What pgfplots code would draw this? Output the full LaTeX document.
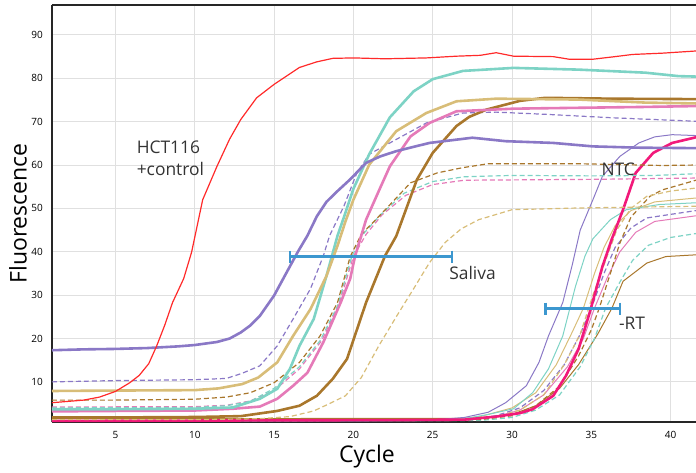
\documentclass[border=0pt]{standalone}
\usepackage{fontspec}
\setmainfont{Open Sans}
\usepackage{pgfplots}
\pgfplotsset{compat=1.18}

\definecolor{cred}{HTML}{FF2A2A}
\definecolor{cteal}{HTML}{7DD3C5}
\definecolor{cgold}{HTML}{D8BD78}
\definecolor{cbrown}{HTML}{A9772C}
\definecolor{cpink}{HTML}{E57AB8}
\definecolor{cpurple}{HTML}{8A78C6}
\definecolor{cmag}{HTML}{F2197A}
\definecolor{cbar}{HTML}{3C97CF}

\pgfplotsset{
  thin curve/.style={line width=0.5pt},
  thick curve/.style={line width=1.3pt},
  dash curve/.style={line width=0.6pt, dash pattern=on 2.5pt off 1.5pt},
}

\begin{document}
\begin{tikzpicture}
\begin{axis}[
  name=ax, at={(0,0)}, anchor=south west,
  scale only axis, width=322pt, height=208.5pt,
  xmin=1, xmax=41.6, ymin=0.75, ymax=96.9,
  axis x line=box, axis y line=left,
  axis line style={-, black!85, line width=0.8pt},
  xtick={5,10,...,40}, ytick={10,20,...,90},
  major tick length=0pt,
  grid=major, grid style={black!12, line width=0.5pt},
  tick label style={font=\fontsize{5}{6}\selectfont},
  /pgf/number format/assume math mode=true,
  xticklabel style={yshift=-1pt},
  yticklabel style={xshift=-1pt},
  xlabel={Cycle}, ylabel={Fluorescence},
  every axis x label/.style={at={(axis description cs:0.489,0)}, anchor=center, yshift=-17.5pt, font=\fontsize{11.5}{13}\selectfont},
  every axis y label/.style={at={(axis description cs:0,0.5)}, anchor=center, rotate=90, yshift=17pt, font=\fontsize{11.5}{13}\selectfont},
  clip=true,
]
% late group (NTC / -RT)
\addplot[cbrown, thin curve] coordinates {(1,1.5)(28,1.6)(30,2.5)(31.5,4.5)(33,8.5)(34.2,14)(35.4,21)(36.3,27)(37,33.2)(38.5,37.4)(39.7,38.9)(41.6,39.3)};
\addplot[cteal, dash curve] coordinates {(1,1)(28,1.1)(30,1.8)(31.5,3.5)(33,7)(34.3,13.5)(35.2,20)(35.9,27)(36.8,33)(37.6,38)(38.6,41.5)(40,43.3)(41.6,44.2)};
\addplot[cpink, thin curve] coordinates {(1,1)(27,1.1)(29,2)(30.5,3.5)(32,7)(33.5,13.5)(34.5,20)(35.2,27)(36,34)(36.8,40)(37.8,44.5)(39,47)(41.6,48.3)};
\addplot[cpurple, dash curve] coordinates {(1,1)(27,1.2)(29,2.2)(30.5,4)(32,8)(33.3,14)(34.3,21)(35.1,28)(35.8,35)(36.5,41)(37.5,45.5)(38.5,47.8)(41.6,49.5)};
\addplot[cbrown, dash curve] coordinates {(1,1)(28,1.3)(30,2.2)(31.5,4.5)(33,9)(34.2,16)(35,22)(35.5,27)(36.2,35)(36.8,42)(37.5,48)(38.7,52.8)(39.5,54.3)(41.6,56.5)};
\addplot[cgold, dash curve] coordinates {(1,1)(27,1.2)(29,2)(30.5,3.5)(32,7)(33.3,14)(34.3,21)(35.1,30)(35.9,38)(36.6,45)(37.5,50)(38.5,52.8)(40,54)(41.6,54.7)};
\addplot[cgold, thin curve] coordinates {(1,1)(26,1.2)(28,2)(30,4)(31.5,7.5)(32.8,14)(33.8,21.5)(34.5,27)(35.2,35)(35.8,41)(36.5,46)(37.5,49.5)(39,51.5)(41.6,52.4)};
\addplot[cteal, thin curve] coordinates {(1,1)(25,1.1)(27,1.5)(28.5,2.5)(30.1,3.8)(31.3,7.5)(32.3,13)(33.2,20.6)(34,32)(34.6,39)(35.1,43)(36.2,47.4)(37.2,49.7)(39.3,50.9)(41.6,51.3)};
\addplot[cpurple, thin curve] coordinates {(1,1)(20,1)(25,1.2)(27,1.8)(28.5,3)(29.6,5.2)(30.9,9.1)(31.7,14.5)(32.3,20.6)(33.2,28.3)(33.8,37)(34.3,45)(35.1,52)(35.7,57.4)(36.8,62)(38,65.1)(39,66.5)(40.1,67)(41.6,66.8)};
\addplot[cmag, thick curve] coordinates {(1,1)(22.9,1.2)(27,1.3)(29,2)(30.5,2.8)(31.3,3.7)(32.6,6.8)(33.4,11.4)(34.2,17.6)(34.9,26)(35.7,36.6)(36.3,43)(37,49.7)(37.8,58.2)(38.9,62.8)(40.1,65.1)(41.6,66.4)};
% saliva group
\addplot[cgold, dash curve] coordinates {(1,1.3)(10,1.3)(14,1.5)(16,2)(17.5,3.3)(18.5,5)(19.5,6.8)(20.5,11)(21.6,18.3)(22.7,25)(23.8,31.5)(24.8,37.5)(25.8,42.2)(26.8,45.3)(27.9,47.4)(30,49.7)(34.2,50.1)(41.6,50.5)};
\addplot[cpink, dash curve] coordinates {(1,4.2)(10,4.3)(12,4.6)(13.5,5.6)(15,8)(16.6,13)(18,19.5)(19.1,28)(20,38.9)(20.8,44)(21.8,48.5)(23.3,53)(25,55.5)(27,56.5)(35,56.7)(41.6,57)};
\addplot[cteal, dash curve] coordinates {(1,4)(10,4.1)(12,4.5)(13.5,5.5)(15,8.5)(16.6,13.5)(17.9,19.5)(19,27.5)(19.9,38.9)(20.6,44)(21.7,48.5)(23.2,53.5)(25,56.2)(27,57.3)(30,57.6)(35,57.5)(39,57.6)(41.6,58)};
\addplot[cbrown, dash curve] coordinates {(1,5.8)(5,5.8)(10,6)(12,6.5)(13.5,7.5)(15,9.8)(16.6,14.5)(17.9,20.6)(19,28.3)(19.8,38.9)(20.5,44)(21.7,48.5)(23.6,55.9)(25.3,58.2)(26.9,59.4)(28.5,60.3)(34.2,60.3)(39.5,59.9)(41.6,60)};
\addplot[cpurple, dash curve] coordinates {(1,10)(5,10.3)(10,10.5)(12,10.8)(13,12)(14.1,13.7)(15.2,18.3)(16.2,24.5)(17.3,31.5)(18.1,39)(18.5,43.7)(19.4,50.5)(20.2,58)(21,62.5)(22.7,65.9)(24.6,69.7)(26.9,72)(29,72.2)(32.1,71.7)(36.3,70.9)(41.6,70.1)};
\addplot[cbrown, thick curve] coordinates {(1,1.8)(5,1.8)(10,1.9)(12.9,2.1)(15.2,3.3)(16.6,4.5)(17.7,6.8)(18.7,10.7)(19.6,15.3)(20.8,28.3)(22,39.1)(22.7,43.6)(24,56.6)(25,62.8)(26.5,69)(27.3,71.1)(28.4,72.8)(30.5,74.8)(32.1,75.5)(36.3,75.3)(41.6,75.2)};
\addplot[cpink, thick curve] coordinates {(1,3.2)(5,3.3)(10,3.4)(12.4,3.8)(14.1,4.3)(15.2,6.1)(16.2,9.1)(17.1,12.1)(18.1,19.1)(19.2,28.3)(19.8,33.8)(20.1,38.9)(20.8,47.4)(21.6,54)(22.3,59.7)(23.6,66.6)(24.8,69.7)(26.5,72.4)(30.1,73)(34.2,73.2)(38.4,73.4)(41.6,73.6)};
\addplot[cteal, thick curve] coordinates {(1,3.7)(5,3.7)(10,3.8)(12.4,4.1)(14.1,6.1)(15.2,8.4)(16,13)(16.6,18.3)(17.5,24.5)(18.3,34.4)(19,43.7)(19.5,49)(20,54.5)(21,62.5)(22.3,71)(23.8,77)(25,79.8)(26.9,81.7)(30.1,82.4)(34.2,82)(38.4,81.3)(40.5,80.5)(41.6,80.4)};
\addplot[cgold, thick curve] coordinates {(1,7.9)(5,8)(10,8.1)(11.5,8.5)(13,9.5)(14,11)(15.2,14.5)(16.2,20.6)(17.3,26.8)(18.3,34.4)(19,41.4)(19.5,47)(20,52)(21,60.1)(22.7,67.8)(24.6,72)(26.5,74.7)(29,75.3)(34.2,75.1)(38.4,74.4)(41.6,74.2)};
\addplot[cpurple, thick curve] coordinates {(1,17.3)(3,17.5)(5,17.6)(7,17.8)(9,18.2)(10,18.5)(11.4,19.2)(12.2,20)(12.9,21.4)(13.5,23)(14.1,25.2)(15,29.9)(15.8,35.3)(16.5,40)(17.1,43.7)(17.7,48.2)(18.3,51.5)(19,54)(19.8,56.7)(20.8,60.5)(21.7,62)(22.7,63.2)(24.8,65.1)(27.5,66.3)(29.6,65.5)(32.6,65.1)(35.1,64.3)(38,64)(41.6,63.9)};
% positive control
\addplot[cred, line width=0.6pt] coordinates {(1,5.2)(2,5.5)(3,5.8)(4,6.5)(5,7.8)(5.9,9.8)(6.5,11.5)(7.1,14.2)(7.6,18.3)(8.1,23)(8.6,28.3)(9.3,33.8)(9.8,39.9)(10.5,52)(11.4,59.7)(12.2,66)(12.9,70.5)(13.9,75.5)(15,78.6)(16.6,82.5)(17.7,83.8)(18.7,84.6)(20,84.7)(22,84.5)(24.6,84.7)(26.5,85.1)(28,85.3)(29,85.9)(30.1,85.1)(32.6,85)(33.6,84.4)(35.1,84.4)(36.5,85)(37.6,85.5)(39.5,85.8)(41.6,86.3)};
% Ct ranges
\addplot[cbar, line width=1.5pt, mark=|, mark size=3pt, mark options={solid, line width=1.2pt}] coordinates {(16.0,38.9)(26.2,38.9)};
\addplot[cbar, line width=1.5pt, mark=|, mark size=3pt, mark options={solid, line width=1.2pt}] coordinates {(32.1,26.9)(36.8,26.9)};
\node[anchor=west, align=left, font=\fontsize{8.7}{11}\selectfont, text=black!80] at (axis cs:5.9,61.5) {HCT116\\+control};
\node[anchor=center, font=\fontsize{8.7}{11}\selectfont, text=black!80] at (axis cs:36.7,59) {NTC};
\node[anchor=west, font=\fontsize{8.7}{11}\selectfont, text=black!80] at (axis cs:25.6,35) {Saliva};
\node[anchor=west, font=\fontsize{8.7}{11}\selectfont, text=black!80] at (axis cs:36.3,23.4) {-RT};
\end{axis}
\pgfresetboundingbox
\path (-26pt,-25pt) rectangle (322pt,211pt);
\end{tikzpicture}
\end{document}
